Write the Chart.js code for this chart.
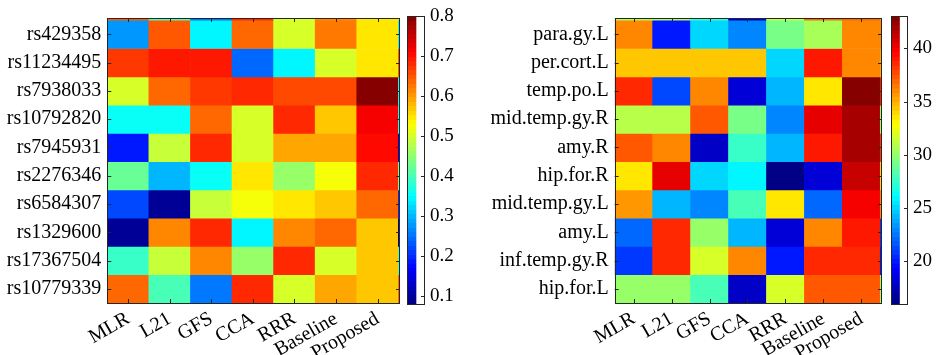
<!DOCTYPE html>
<html>
<head>
<meta charset="utf-8">
<script src="https://cdn.jsdelivr.net/npm/chart.js@4.4.1/dist/chart.umd.min.js"></script>
<style>
  body { margin: 0; background: #fff; }
  #wrap { position: relative; width: 937px; height: 355px; }
  canvas { position: absolute; top: 0; }
</style>
</head>
<body>
<div id="wrap">
  <canvas id="snpMap" width="405" height="355" style="left:0px"></canvas>
  <canvas id="snpBar" width="60" height="355" style="left:400px"></canvas>
  <canvas id="roiMap" width="405" height="355" style="left:480px"></canvas>
  <canvas id="roiBar" width="52" height="355" style="left:885px"></canvas>
</div>
<script>
const methods = ['MLR', 'L21', 'GFS', 'CCA', 'RRR', 'Baseline', 'Proposed'];

// left panel
const snps = ['rs429358', 'rs11234495', 'rs7938033', 'rs10792820', 'rs7945931',
  'rs2276346', 'rs6584307', 'rs1329600', 'rs17367504', 'rs10779339'];
const snpScores = [
  [0.28, 0.65, 0.35, 0.64, 0.505, 0.62, 0.55],
  [0.667, 0.69, 0.69, 0.248, 0.35, 0.505, 0.55],
  [0.50, 0.64, 0.665, 0.685, 0.66, 0.66, 0.80],
  [0.36, 0.36, 0.64, 0.50, 0.685, 0.57, 0.72],
  [0.184, 0.49, 0.685, 0.50, 0.59, 0.59, 0.71],
  [0.42, 0.30, 0.355, 0.55, 0.46, 0.53, 0.68],
  [0.225, 0.096, 0.49, 0.53, 0.545, 0.565, 0.64],
  [0.10, 0.61, 0.68, 0.343, 0.61, 0.64, 0.565],
  [0.386, 0.49, 0.61, 0.46, 0.685, 0.50, 0.565],
  [0.64, 0.405, 0.26, 0.685, 0.50, 0.59, 0.565]
];
// cut-off row above / column right of the visible block
const snpTopEdge = [0.65, 0.405, 0.26, 0.68, 0.50, 0.61, 0.55];
const snpRightEdge = [0.35, 0.65, 0.36, 0.36, 0.15, 0.42, 0.2, 0.1, 0.39, 0.64];
const snpRange = [0.08, 0.80];
const snpTicks = [0.1, 0.2, 0.3, 0.4, 0.5, 0.6, 0.7, 0.8];

// right panel
const rois = ['para.gy.L', 'per.cort.L', 'temp.po.L', 'mid.temp.gy.R', 'amy.R',
  'hip.for.R', 'mid.temp.gy.L', 'amy.L', 'inf.temp.gy.R', 'hip.for.L'];
const roiScores = [
  [36.2, 20.2, 25.2, 23.1, 29.2, 30.6, 36.2],
  [34.4, 34.4, 34.4, 34.4, 25.2, 38.8, 36.2],
  [38.4, 21.4, 36.2, 18.2, 24.1, 33.3, 43.0],
  [31.1, 31.1, 37.1, 29.2, 23.1, 40.3, 42.1],
  [37.3, 36.2, 17.9, 27.5, 24.1, 39.1, 42.1],
  [33.4, 40.3, 24.9, 26.1, 16.1, 18.2, 41.3],
  [35.5, 24.1, 23.1, 28.2, 33.4, 22.0, 40.0],
  [22.3, 38.4, 30.3, 24.1, 18.2, 36.2, 39.1],
  [20.7, 38.4, 31.9, 36.2, 20.2, 38.4, 38.4],
  [30.3, 30.3, 28.2, 17.9, 31.9, 37.3, 37.3]
];
const roiTopEdge = [30.6, 30.6, 27.5, 18.2, 31.5, 37, 37];
const roiRightEdge = [36, 35, 39, 30, 38, 34, 36, 21, 20, 30];
const roiRange = [16, 43];
const roiTicks = [20, 25, 30, 35, 40];

const FAMILY = "'Liberation Serif', 'Times New Roman', serif";
const FONT = { family: FAMILY, size: 20 };
const EDGE = '#262626';

// matlab style jet, 64 levels
function jet(v, lo, hi) {
  let t = (v - lo) / (hi - lo);
  t = Math.max(0, Math.min(1, t));
  const k = Math.min(63, Math.floor(t * 64));
  t = (k + 0.5) / 64;
  const c = x => Math.round(255 * Math.max(0, Math.min(1, 1.5 - Math.abs(4 * t - x))));
  return 'rgb(' + c(3) + ',' + c(2) + ',' + c(1) + ')';
}

// box + inward tick marks like matlab axes
const frame = {
  id: 'frame',
  afterDraw(chart, args, o) {
    const { ctx, chartArea: a, scales } = chart;
    const len = 4;
    ctx.save();
    ctx.strokeStyle = EDGE;
    ctx.lineWidth = 1;
    ctx.beginPath();
    if (o.xTicks) {
      scales.x.ticks.forEach((t, i) => {
        const px = Math.round(scales.x.getPixelForTick(i)) + 0.5;
        ctx.moveTo(px, a.bottom); ctx.lineTo(px, a.bottom - len);
        ctx.moveTo(px, a.top); ctx.lineTo(px, a.top + len);
      });
    }
    scales.y.ticks.forEach((t, i) => {
      const py = Math.round(scales.y.getPixelForTick(i)) + 0.5;
      if (o.yLeft) { ctx.moveTo(a.left, py); ctx.lineTo(a.left + len, py); }
      ctx.moveTo(a.right, py); ctx.lineTo(a.right - len, py);
    });
    ctx.stroke();
    ctx.strokeRect(Math.round(a.left) + 0.5, Math.round(a.top) + 0.5,
      Math.round(a.width) - 1, Math.round(a.height));
    ctx.restore();
  }
};

function heatmap(id, rows, values, topEdge, rightEdge, range, geo) {
  const datasets = [];
  const addRow = (rowIdx, vals, withEdge) => {
    const data = vals.map((v, j) => ({ x: j + 0.5, y: [rowIdx, rowIdx + 1] }));
    const colors = vals.map(v => jet(v, range[0], range[1]));
    if (withEdge !== undefined) {
      data.push({ x: 7.5, y: [rowIdx, rowIdx + 1] });
      colors.push(jet(withEdge, range[0], range[1]));
    }
    datasets.push({ data, backgroundColor: colors, borderWidth: 0 });
  };
  addRow(-1, topEdge);
  values.forEach((r, i) => addRow(i, r, rightEdge[i]));

  new Chart(document.getElementById(id), {
    type: 'bar',
    data: { datasets },
    options: {
      responsive: false,
      animation: false,
      layout: { padding: { left: 0, right: geo.right, top: 14, bottom: 0 } },
      plugins: { legend: { display: false }, tooltip: { enabled: false },
        frame: { xTicks: true, yLeft: true } },
      datasets: { bar: { grouped: false, barPercentage: 1, categoryPercentage: 1 } },
      scales: {
        x: {
          type: 'linear', min: 0, max: geo.xMax, offset: false,
          grid: { display: false, drawTicks: false }, border: { display: false },
          afterBuildTicks: s => { s.ticks = methods.map((m, i) => ({ value: i + 0.5 })); },
          afterFit: s => { s.height = 52; },
          ticks: {
            autoSkip: false, minRotation: 30, maxRotation: 30, padding: 4,
            color: '#000', font: FONT,
            callback: v => methods[Math.floor(v)]
          }
        },
        y: {
          type: 'linear', reverse: true, min: -0.08, max: 10,
          grid: { display: false, drawTicks: false }, border: { display: false },
          afterBuildTicks: s => { s.ticks = rows.map((r, i) => ({ value: i + 0.5 })); },
          afterFit: s => { s.width = geo.yWidth; },
          ticks: { autoSkip: false, padding: 6, color: '#000', font: FONT,
            callback: v => rows[Math.floor(v)] }
        }
      }
    },
    plugins: [frame]
  });
}

function colorbar(id, range, ticks, geo) {
  new Chart(document.getElementById(id), {
    type: 'bar',
    data: {
      labels: ['c'],
      datasets: [{
        data: [range],
        borderWidth: 0,
        backgroundColor: ctx => {
          const area = ctx.chart.chartArea;
          if (!area) return null;
          const g = ctx.chart.ctx.createLinearGradient(0, area.bottom, 0, area.top);
          for (let k = 0; k < 64; k++) {
            const v = range[0] + (range[1] - range[0]) * (k + 0.5) / 64;
            const col = jet(v, range[0], range[1]);
            g.addColorStop(k / 64, col);
            g.addColorStop((k + 1) / 64, col);
          }
          return g;
        }
      }]
    },
    options: {
      responsive: false,
      animation: false,
      layout: { padding: { left: geo.left, right: 0, top: 13, bottom: 51 } },
      plugins: { legend: { display: false }, tooltip: { enabled: false },
        frame: { xTicks: false, yLeft: false } },
      datasets: { bar: { barPercentage: 1, categoryPercentage: 1 } },
      scales: {
        x: { display: false, offset: false },
        y: {
          position: 'right', min: range[0], max: range[1],
          grid: { display: false, drawTicks: false }, border: { display: false },
          afterBuildTicks: s => { s.ticks = ticks.map(v => ({ value: v })); },
          afterFit: s => { s.width = geo.yWidth; },
          ticks: { padding: 5, color: '#000', font: { family: FAMILY, size: 19 },
            callback: v => geo.fmt(v) }
        }
      }
    },
    plugins: [frame]
  });
}

heatmap('snpMap', snps, snpScores, snpTopEdge, snpRightEdge, snpRange,
  { right: 5, yWidth: 107.3, xMax: 7.04 });
colorbar('snpBar', snpRange, snpTicks, { left: 7, yWidth: 35, fmt: v => v.toFixed(1) });
heatmap('roiMap', rois, roiScores, roiTopEdge, roiRightEdge, roiRange,
  { right: 3, yWidth: 134.7, xMax: 7.045 });
colorbar('roiBar', roiRange, roiTicks, { left: 6, yWidth: 29, fmt: v => String(v) });
</script>
</body>
</html>
